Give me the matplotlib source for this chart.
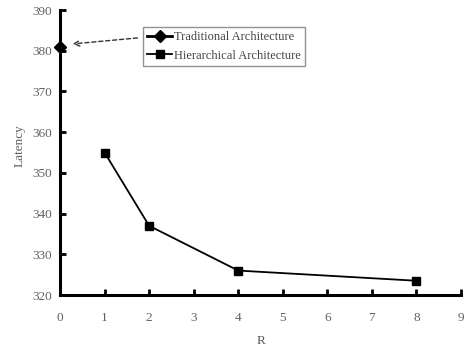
import matplotlib
matplotlib.use("Agg")
import matplotlib.pyplot as plt

# data
trad_r = [0]
trad_latency = [381]
hier_r = [1, 2, 4, 8]
hier_latency = [355, 337, 326, 323.5]
x_ticks = list(range(0, 10))
y_ticks = list(range(320, 391, 10))

plt.rcParams['font.family'] = ['Liberation Serif', 'DejaVu Serif']

fig = plt.figure(figsize=(4.65, 3.51), dpi=100)
ax = fig.add_axes([60 / 465, 1 - 295 / 351, 401 / 465, 285 / 351])

ax.plot(trad_r, trad_latency, color='black', marker='D', markersize=6.5,
        lw=2, label='Traditional Architecture', clip_on=False, zorder=5)
ax.plot(hier_r, hier_latency, color='black', marker='s', markersize=6,
        lw=1.3, label='Hierarchical Architecture', clip_on=False, zorder=5)

ax.set_xlim(0, 9)
ax.set_ylim(320, 390)
ax.set_xticks(x_ticks)
ax.set_yticks(y_ticks)
for s in ['top', 'right']:
    ax.spines[s].set_visible(False)
for s in ['left', 'bottom']:
    ax.spines[s].set_linewidth(2.2)
ax.tick_params(direction='in', length=4, width=2, labelsize=9.5,
               labelcolor='#606060')
ax.tick_params(axis='x', pad=12)
ax.tick_params(axis='y', pad=6)
ax.set_xlabel('R', fontsize=9.5, color='#555555', labelpad=8)
ax.set_ylabel('Latency', fontsize=9.5, color='#606060')
ax.yaxis.set_label_coords(-0.085, 0.525)

leg = ax.legend(loc='upper left', bbox_to_anchor=(143 / 465, 1 - 27 / 351),
                bbox_transform=fig.transFigure, fontsize=9, frameon=True,
                fancybox=False, handlelength=2.0, handletextpad=0.1,
                borderpad=0.35, labelspacing=0.5, borderaxespad=0)
leg.get_frame().set_edgecolor('#777777')
leg.get_frame().set_linewidth(1)
for t in leg.get_texts():
    t.set_color('#444444')

ax.annotate('', xy=(0.22, 381.6), xytext=(1.8, 383.2),
            arrowprops=dict(arrowstyle='->', linestyle=(0, (3, 2)),
                            color='#333333', lw=1))

fig.savefig('out.png', dpi=100)
